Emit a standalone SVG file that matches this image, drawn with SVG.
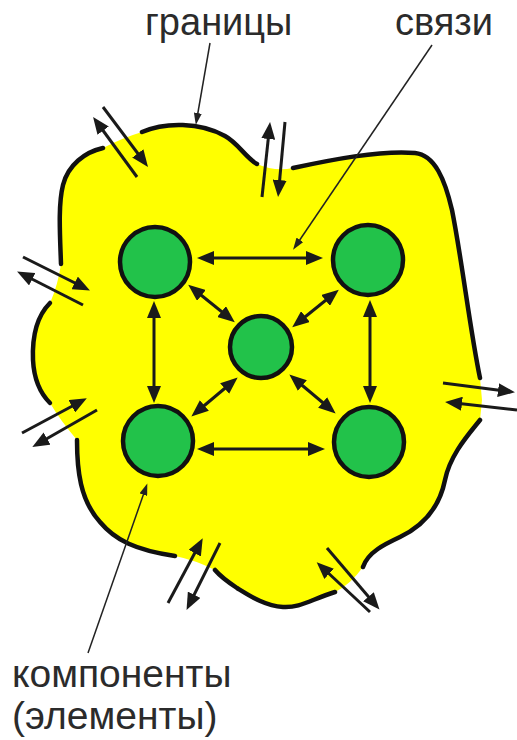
<svg xmlns="http://www.w3.org/2000/svg" width="517" height="740" viewBox="0 0 517 740">
<defs>
<style>
.lbl{font-family:"Liberation Sans",Arial,sans-serif;fill:#2b2b2b;}
.edge{fill:none;stroke:#111;stroke-width:4.5;stroke-linecap:round;}
.node{fill:#22C24A;stroke:#111;stroke-width:4.5;}
.link{stroke:#1a1a1a;stroke-width:3;fill:none;marker-start:url(#ah);marker-end:url(#ah);}
.ext{stroke:#1a1a1a;stroke-width:3;fill:none;marker-end:url(#ah);}
.lead{stroke:#222;stroke-width:1.5;fill:none;marker-end:url(#lh);}
</style>
<marker id="ah" viewBox="0 0 17 14" refX="7" refY="7" markerWidth="17" markerHeight="14" markerUnits="userSpaceOnUse" orient="auto-start-reverse"><path d="M0,0 L17,7 L0,14 Z" fill="#1a1a1a"/></marker>
<marker id="lh" viewBox="0 0 12 8" refX="5" refY="4" markerWidth="12" markerHeight="8" markerUnits="userSpaceOnUse" orient="auto"><path d="M0,0 L12,4 L0,8 Z" fill="#222"/></marker>
</defs>
<rect width="517" height="740" fill="#fff"/>
<g id="system">
<path d="M142,132 C165,122 200,122 225,136 C238,143 246,158 257,164 Q275,172 293,168 C330,160 380,150 415,153 C435,155 445,180 452,210 C462,260 470,330 480,378 L482,400 L480,420 C468,435 450,455 445,480 C440,505 425,525 400,537 C385,544 368,552 363,567 Q350,585 335,592 C310,600 300,608 283,607 C265,606 250,596 237,588 C228,582 220,576 215,570 Q195,560 175,556 C135,550 115,540 100,522 C80,500 77,470 77,440 Q60,420 50,403 C40,393 34,380 33,360 C32,335 38,315 50,303 Q58,285 61,264 C60,235 58,205 63,185 C68,165 85,152 103,148 Q122,138 142,132 Z" fill="#FFFF00"/>
<path class="edge" d="M103,148 C85,152 68,165 63,185 C58,205 60,235 61,264"/>
<path class="edge" d="M142,132 C165,122 200,122 225,136 C238,143 246,158 257,164"/>
<path class="edge" d="M293,168 C330,160 380,150 415,153 C435,155 445,180 452,210 C462,260 470,330 480,378"/>
<path class="edge" d="M480,420 C468,435 450,455 445,480 C440,505 425,525 400,537 C385,544 368,552 363,567"/>
<path class="edge" d="M335,592 C310,600 300,608 283,607 C265,606 250,596 237,588 C228,582 220,576 215,570"/>
<path class="edge" d="M77,440 C77,470 80,500 100,522 C115,540 135,550 175,556"/>
<path class="edge" d="M50,303 C38,315 32,335 33,360 C34,380 40,393 50,403"/>
</g>
<g id="connectors">
<line class="link" x1="207" y1="258" x2="313" y2="258"/>
<line class="link" x1="207" y1="449" x2="315" y2="449"/>
<line class="link" x1="154" y1="311" x2="154" y2="393"/>
<line class="link" x1="370" y1="310" x2="370" y2="393"/>
<line class="link" x1="196" y1="291" x2="227" y2="316"/>
<line class="link" x1="331" y1="296" x2="300" y2="321"/>
<line class="link" x1="199" y1="410" x2="230" y2="384"/>
<line class="link" x1="297" y1="381" x2="328" y2="407"/>
<g id="external">
<line class="ext" x1="137" y1="177" x2="99" y2="125"/>
<line class="ext" x1="103" y1="107" x2="142" y2="159"/>
<line class="ext" x1="262" y1="197" x2="269" y2="132"/>
<line class="ext" x1="285" y1="122" x2="279" y2="187"/>
<line class="ext" x1="23" y1="257" x2="81" y2="286"/>
<line class="ext" x1="83" y1="305" x2="26" y2="276"/>
<line class="ext" x1="22" y1="433" x2="78" y2="403"/>
<line class="ext" x1="97" y1="410" x2="41" y2="442"/>
<line class="ext" x1="443" y1="383" x2="505" y2="391"/>
<line class="ext" x1="517" y1="410" x2="455" y2="403"/>
<line class="ext" x1="168" y1="603" x2="198" y2="547"/>
<line class="ext" x1="220" y1="543" x2="191" y2="601"/>
<line class="ext" x1="370" y1="612" x2="324" y2="569"/>
<line class="ext" x1="327" y1="548" x2="373" y2="602"/>
</g>
<g id="leaders">
<line class="lead" x1="210" y1="43" x2="197" y2="118"/>
<line class="lead" x1="432" y1="45" x2="297" y2="244"/>
<line class="lead" x1="88" y1="653" x2="145" y2="490"/>
</g>
</g>
<g id="n-tl"><circle class="node" cx="155" cy="262" r="35"/></g>
<g id="n-tr"><circle class="node" cx="368" cy="260" r="35"/></g>
<g id="n-c"><circle class="node" cx="261" cy="347" r="31"/></g>
<g id="n-bl"><circle class="node" cx="158" cy="441" r="35"/></g>
<g id="n-br"><circle class="node" cx="369" cy="442" r="35"/></g>
<g id="labels">
<text class="lbl" x="145" y="35" font-size="38">границы</text>
<text class="lbl" x="395" y="35" font-size="38">связи</text>
<text class="lbl" x="12" y="687" font-size="39">компоненты</text>
<text class="lbl" x="12" y="729" font-size="39">(элементы)</text>
</g>
</svg>
